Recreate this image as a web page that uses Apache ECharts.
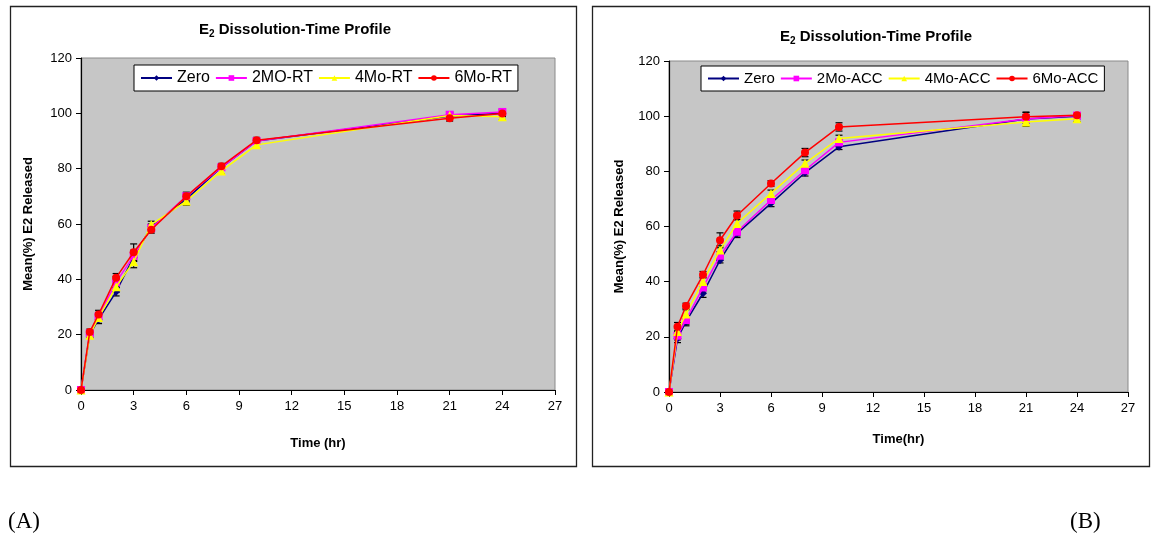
<!DOCTYPE html>
<html>
<head>
<meta charset="utf-8">
<script src="https://cdn.jsdelivr.net/npm/echarts@6/dist/echarts.min.js"></script>
<style>
  html, body { margin: 0; padding: 0; background: #fff; }
  #chart { width: 1153px; height: 542px; }
</style>
</head>
<body>
<div id="chart"></div>
<script>
// Sampling times (hr)
const times = [0, 0.5, 1, 2, 3, 4, 6, 8, 10, 21, 24];

// Panel A: room-temperature storage, mean % released
const namesA = ['Zero', '2MO-RT', '4Mo-RT', '6Mo-RT'];
const zeroA = [0, 20, 25.5, 35.5, 48, 59, 69, 80.5, 90, 99, 100];
const mo2A  = [0, 20.5, 26.5, 39, 48.5, 58.5, 70, 80.5, 90, 99.5, 100.5];
const mo4A  = [0, 19.8, 26.2, 37.3, 46.4, 59.8, 68.3, 79.2, 88.6, 99.2, 98.8];
const mo6A  = [0, 21, 27.3, 40.6, 49.8, 57.9, 70, 80.9, 90.3, 98.2, 99.9];
const errZeroA = [0, 1, 1.5, 1.5, 1.5, 1, 1, 1, 1, 1, 1.2];
const err2A    = [0, 1, 1.5, 2, 2, 1.2, 1, 1, 1, 1, 1];
const err4A    = [0, 1, 1.5, 2, 2.2, 1.2, 1.5, 1, 1, 1, 1];
const err6A    = [0, 1, 1.5, 1.5, 3, 1.2, 1.5, 1, 1, 1, 1];

// Panel B: accelerated storage, mean % released
const namesB = ['Zero', '2Mo-ACC', '4Mo-ACC', '6Mo-ACC'];
const zeroB = [0, 19.4, 25.5, 35.8, 47.8, 57.5, 68.4, 79.5, 88.9, 99, 100];
const mo2B  = [0, 20.4, 26.1, 37.9, 49.4, 58.1, 69.6, 80.4, 90.5, 99, 100.2];
const mo4B  = [0, 21.9, 28.3, 40.1, 51.5, 61.1, 72, 82.9, 91.9, 97.9, 99.1];
const mo6B  = [0, 23.7, 31.2, 42.5, 55, 64, 75.6, 86.8, 96.1, 99.8, 100.3];
const errZeroB = [0, 1.5, 1.5, 1.5, 1, 1.5, 1.2, 1.2, 1, 2.5, 1];
const err2B    = [0, 1.5, 1.5, 1.2, 1.5, 1.5, 1.2, 1.2, 1, 1.5, 1];
const err4B    = [0, 1.2, 1.5, 1.5, 1.5, 1.5, 1.2, 1.2, 1.2, 1.5, 1];
const err6B    = [0, 1.5, 1, 1.2, 2.7, 1.6, 1, 1.5, 1.5, 1.5, 1];

const colors = ['#000080', '#ff00ff', '#ffff00', '#ff0000'];
const symbols = ['diamond', 'rect', 'triangle', 'circle'];
const symbolSizes = [8, 8, 9, 8];
const FONT = 'Arial, "Liberation Sans", sans-serif';

function pairs(vals) { return times.map((t, i) => [t, vals[i]]); }

function lineSeries(names, valueSets, gridIdx) {
  return names.map((n, k) => ({
    name: n,
    type: 'line',
    xAxisIndex: gridIdx,
    yAxisIndex: gridIdx,
    data: pairs(valueSets[k]),
    symbol: symbols[k],
    symbolSize: symbolSizes[k],
    showAllSymbol: true,
    color: colors[k],
    lineStyle: { width: 1.5, color: colors[k] },
    itemStyle: { color: colors[k] },
    z: 3 + k,
    animation: false
  }));
}

function errorSeries(valueSets, errSets, gridIdx) {
  const data = [];
  valueSets.forEach((vals, k) => {
    vals.forEach((v, i) => {
      if (errSets[k][i] > 0) data.push([times[i], v - errSets[k][i], v + errSets[k][i]]);
    });
  });
  return {
    type: 'custom',
    xAxisIndex: gridIdx,
    yAxisIndex: gridIdx,
    data: data,
    z: 2,
    silent: true,
    animation: false,
    encode: { x: 0, y: [1, 2] },
    renderItem: function (params, api) {
      const x = api.value(0);
      const top = api.coord([x, api.value(2)]);
      const bot = api.coord([x, api.value(1)]);
      const w = 3.5;
      const st = { stroke: '#000', lineWidth: 1.2 };
      return {
        type: 'group',
        children: [
          { type: 'line', shape: { x1: top[0], y1: top[1], x2: bot[0], y2: bot[1] }, style: st },
          { type: 'line', shape: { x1: top[0] - w, y1: top[1], x2: top[0] + w, y2: top[1] }, style: st },
          { type: 'line', shape: { x1: bot[0] - w, y1: bot[1], x2: bot[0] + w, y2: bot[1] }, style: st }
        ]
      };
    }
  };
}

function xAxis(gridIdx, name, gap) {
  return {
    type: 'value', gridIndex: gridIdx, min: 0, max: 27, interval: 3,
    name: name, nameLocation: 'middle', nameGap: gap,
    nameTextStyle: { fontFamily: FONT, fontWeight: 'bold', fontSize: 13, color: '#000' },
    axisLine: { show: true, onZero: false, lineStyle: { color: '#000', width: 1.2 } },
    axisTick: { show: true, length: 5, lineStyle: { color: '#000' } },
    axisLabel: { fontFamily: FONT, fontSize: 13, color: '#000', margin: 10 },
    splitLine: { show: false }
  };
}

function yAxis(gridIdx, gap) {
  return {
    type: 'value', gridIndex: gridIdx, min: 0, max: 120, interval: 20,
    name: 'Mean(%) E2 Released', nameLocation: 'middle', nameGap: gap, nameRotate: 90,
    nameTextStyle: { fontFamily: FONT, fontWeight: 'bold', fontSize: 13, color: '#000' },
    axisLine: { show: true, onZero: false, lineStyle: { color: '#000', width: 1.2 } },
    axisTick: { show: true, length: 5, lineStyle: { color: '#000' } },
    axisLabel: { fontFamily: FONT, fontSize: 13, color: '#000', margin: 9 },
    splitLine: { show: false }
  };
}

function legend(names, left, top, fontSize) {
  return {
    data: names,
    left: left, top: top,
    orient: 'horizontal',
    backgroundColor: '#fff',
    borderColor: '#000',
    borderWidth: 1,
    padding: [5, 6, 5, 6],
    itemGap: 5,
    itemWidth: 31,
    itemHeight: 7,
    textStyle: { fontFamily: FONT, fontSize: fontSize, color: '#000' }
  };
}

const titleRich = {
  a: { fontFamily: FONT, fontWeight: 'bold', fontSize: 15, color: '#000' },
  s: { fontFamily: FONT, fontWeight: 'bold', fontSize: 10, color: '#000', verticalAlign: 'bottom', padding: [8, 0, 0, 0] }
};

const chart = echarts.init(document.getElementById('chart'), null, { renderer: 'canvas' });

const valsA = [zeroA, mo2A, mo4A, mo6A];
const valsB = [zeroB, mo2B, mo4B, mo6B];

chart.setOption({
  backgroundColor: '#fff',
  animation: false,
  title: [
    { text: '{a|E}{s|2}{a| Dissolution-Time Profile}', left: 290, top: 16, textAlign: 'center',
      textStyle: { rich: titleRich } },
    { text: '{a|E}{s|2}{a| Dissolution-Time Profile}', left: 871, top: 23, textAlign: 'center',
      textStyle: { rich: titleRich } }
  ],
  grid: [
    { left: 81, top: 58, width: 474, height: 332, show: true, backgroundColor: '#c6c6c6', borderColor: '#8a8a8a', borderWidth: 1 },
    { left: 669, top: 61, width: 459, height: 331, show: true, backgroundColor: '#c6c6c6', borderColor: '#8a8a8a', borderWidth: 1 }
  ],
  xAxis: [xAxis(0, 'Time (hr)', 47), xAxis(1, 'Time(hr)', 41)],
  yAxis: [yAxis(0, 46), yAxis(1, 43)],
  legend: [legend(namesA, 134, 65, 16), legend(namesB, 701, 66, 15)],
  series: [
    errorSeries(valsA, [errZeroA, err2A, err4A, err6A], 0),
    ...lineSeries(namesA, valsA, 0),
    errorSeries(valsB, [errZeroB, err2B, err4B, err6B], 1),
    ...lineSeries(namesB, valsB, 1)
  ],
  graphic: [
    { type: 'rect', shape: { x: 10.5, y: 6.5, width: 566, height: 460 }, style: { fill: 'none', stroke: '#222', lineWidth: 1.3 }, z: -1 },
    { type: 'rect', shape: { x: 592.5, y: 6.5, width: 557, height: 460 }, style: { fill: 'none', stroke: '#222', lineWidth: 1.3 }, z: -1 },
    { type: 'text', left: 8, top: 510, style: { text: '(A)', font: '23px "Liberation Serif", "DejaVu Serif", serif', fill: '#000' } },
    { type: 'text', left: 1070, top: 510, style: { text: '(B)', font: '23px "Liberation Serif", "DejaVu Serif", serif', fill: '#000' } }
  ]
});
</script>
</body>
</html>
